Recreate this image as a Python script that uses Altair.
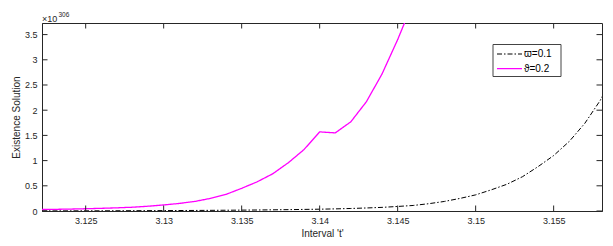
import altair as alt
import pandas as pd

# Data (values in units of 1e306)
t_varpi = [3.1222, 3.124, 3.126, 3.128, 3.130, 3.132, 3.134, 3.136, 3.138, 3.140,
           3.141, 3.142, 3.143, 3.144, 3.145, 3.146, 3.147, 3.148, 3.149, 3.150,
           3.151, 3.152, 3.153, 3.154, 3.155, 3.156, 3.157, 3.158, 3.1581]
y_varpi = [0.002, 0.003, 0.004, 0.006, 0.008, 0.011, 0.015, 0.020, 0.027, 0.036,
           0.042, 0.050, 0.060, 0.072, 0.090, 0.110, 0.145, 0.190, 0.250, 0.320,
           0.420, 0.530, 0.680, 0.880, 1.100, 1.380, 1.740, 2.200, 2.270]

t_theta = [3.1222, 3.123, 3.124, 3.125, 3.126, 3.127, 3.128, 3.129, 3.130, 3.131,
           3.132, 3.133, 3.134, 3.135, 3.136, 3.137, 3.138, 3.139, 3.140, 3.141,
           3.142, 3.143, 3.144, 3.145, 3.146]
y_theta = [0.030, 0.033, 0.038, 0.045, 0.053, 0.063, 0.075, 0.095, 0.120, 0.150,
           0.190, 0.250, 0.330, 0.450, 0.580, 0.740, 0.960, 1.220, 1.570, 1.550,
           1.770, 2.170, 2.720, 3.400, 4.150]

series_names = ["\u03d6=0.1", "\u03d1=0.2"]
series_colors = ["#000000", "#ff00ff"]
series_dash = [[5, 2, 1.5, 2], [1, 0]]
series_width = [1.0, 1.3]

x_ticks = [3.125, 3.13, 3.135, 3.14, 3.145, 3.15, 3.155]
y_ticks = [0, 0.5, 1, 1.5, 2, 2.5, 3, 3.5]
x_domain = [3.1222, 3.1581]
y_domain = [0, 3.73]
exponent_text = "306"

W, H = 560, 188
FONT = "Liberation Sans"
AX = "#262626"

df = pd.concat([
    pd.DataFrame({"t": t_varpi, "v": y_varpi, "s": series_names[0]}),
    pd.DataFrame({"t": t_theta, "v": y_theta, "s": series_names[1]}),
])

xs = alt.Scale(domain=x_domain, nice=False, zero=False)
ys = alt.Scale(domain=y_domain, nice=False, zero=False)

x_axis = alt.Axis(values=x_ticks, format="~g", ticks=False, grid=False, labelOverlap=False,
                  title="Interval 't'", labelPadding=5, titlePadding=3)
y_axis = alt.Axis(values=y_ticks, format="~g", ticks=False, grid=False, labelOverlap=False,
                  title="Existence Solution", labelPadding=5, titlePadding=3)

base = alt.Chart(df)

lines = []
for name, col, dash, sw in zip(series_names, series_colors, series_dash, series_width):
    lines.append(
        base.transform_filter(alt.datum.s == name)
        .mark_line(clip=True, color=col, strokeDash=dash, strokeWidth=sw)
        .encode(
            x=alt.X("t:Q", scale=xs, axis=x_axis),
            y=alt.Y("v:Q", scale=ys, axis=y_axis),
        )
    )

xt = alt.Chart(pd.DataFrame({"t": x_ticks}))
yt = alt.Chart(pd.DataFrame({"v": y_ticks}))
tl = 5.5
tick_layers = [
    xt.mark_rule(color=AX, strokeWidth=1).encode(x=alt.X("t:Q", scale=xs, axis=x_axis), y=alt.value(H), y2=alt.value(H - tl)),
    xt.mark_rule(color=AX, strokeWidth=1).encode(x=alt.X("t:Q", scale=xs, axis=x_axis), y=alt.value(0), y2=alt.value(tl)),
    yt.mark_rule(color=AX, strokeWidth=1).encode(y=alt.Y("v:Q", scale=ys, axis=y_axis), x=alt.value(0), x2=alt.value(tl)),
    yt.mark_rule(color=AX, strokeWidth=1).encode(y=alt.Y("v:Q", scale=ys, axis=y_axis), x=alt.value(W), x2=alt.value(W - tl)),
]

one = alt.Chart(pd.DataFrame({"a": [0]}))
expo = [
    one.mark_text(text="\u00d710", font=FONT, fontSize=9, align="left", baseline="alphabetic", color=AX)
    .encode(x=alt.value(0), y=alt.value(-1.5)),
    one.mark_text(text=exponent_text, font=FONT, fontSize=6.5, align="left", baseline="alphabetic", color=AX)
    .encode(x=alt.value(16.5), y=alt.value(-6.5)),
]

# legend box
lx0, lx1, ly0, ly1 = 451, 519, 21.5, 53.5
legend = [
    one.mark_rect(fill="white", stroke="#444444", strokeWidth=1)
    .encode(x=alt.value(lx0), x2=alt.value(lx1), y=alt.value(ly0), y2=alt.value(ly1))
]
for i, (name, col, dash, sw) in enumerate(zip(series_names, series_colors, series_dash, series_width)):
    yy = 31 + i * 14.7
    legend.append(one.mark_rule(color=col, strokeDash=dash, strokeWidth=sw)
                  .encode(x=alt.value(455), x2=alt.value(480), y=alt.value(yy)))
    legend.append(one.mark_text(text=name, font=FONT, fontSize=10, align="left", baseline="middle", color="black")
                  .encode(x=alt.value(482), y=alt.value(yy)))

chart = alt.layer(*lines, *tick_layers, *expo, *legend).properties(
    width=W, height=H,
    padding={"left": 34, "top": 15, "right": 3, "bottom": 30},
    autosize=alt.AutoSizeParams(type="none"),
    background="white",
).configure_view(
    stroke=AX, strokeWidth=1
).configure_axis(
    labelFont=FONT, titleFont=FONT, labelFontSize=9, titleFontSize=10,
    titleFontWeight="normal", labelColor=AX, titleColor=AX,
    domainColor=AX, domainWidth=1,
)

chart.save("out.html", embed_options={"renderer": "svg", "actions": False})
